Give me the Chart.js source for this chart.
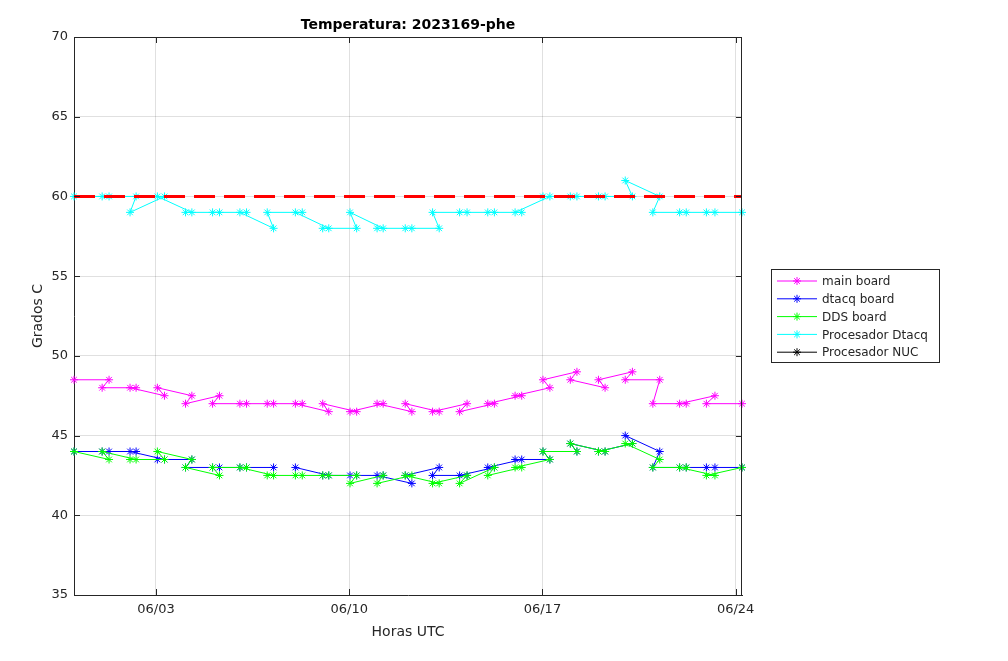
<!DOCTYPE html>
<html>
<head>
<meta charset="utf-8">
<script src="https://cdn.jsdelivr.net/npm/chart.js@4.4.0/dist/chart.umd.min.js"></script>
<style>
  html, body { margin: 0; padding: 0; background: #fff; }
</style>
</head>
<body>
<canvas id="tempChart" width="1008" height="661"></canvas>
<script>
// Instantes de muestreo, en dias de junio (0 = 31/05), en el orden del fichero
const sampleDays = [0.03,
  1.30, 1.05, 2.28, 2.06, 3.31, 3.05, 4.30, 4.07, 5.30, 5.05,
  6.28, 6.04, 7.26, 7.03, 8.30, 8.05, 9.26, 9.04, 10.27, 10.03,
  11.23, 11.01, 12.27, 12.03, 13.26, 13.02, 14.27, 14.00, 15.26, 15.02,
  16.25, 16.01, 17.27, 17.02, 18.25, 18.01, 19.27, 19.03, 20.26, 20.00,
  21.25, 21.00, 22.21, 21.97, 23.25, 22.94,
  24.23];

const mainBoard = [48.5,
  48.5, 48, 48, 48, 47.5, 48, 47.5, 47, 47.5, 47,
  47, 47, 47, 47, 47, 47, 46.5, 47, 46.5, 46.5,
  47, 47, 46.5, 47, 46.5, 46.5, 47, 46.5, 47, 47,
  47.5, 47.5, 48, 48.5, 49, 48.5, 48, 48.5, 49, 48.5,
  48.5, 47, 47, 47, 47.5, 47,
  47];

const dtacqBoard = [44,
  44, 44, 44, 44, 43.5, 43.5, 43.5, 43, 43, 43,
  43, 43, 43, null, null, 43, 42.5, 42.5, 42.5, 42.5,
  42.5, 42.5, 42, 42.5, 43, 42.5, 42.5, 42.5, 43, 43,
  43.5, 43.5, 43.5, 44, 44, 44.5, 44, 44, 44.5, 45,
  44, 43, 43, 43, 43, 43,
  43];

const ddsBoard = [44,
  43.5, 44, 43.5, 43.5, 43.5, 44, 43.5, 43, 42.5, 43,
  43, 43, 42.5, 42.5, 42.5, 42.5, 42.5, 42.5, 42.5, 42,
  42.5, 42, 42.5, 42.5, 42, 42, 42.5, 42, 43, 42.5,
  43, 43, 43.5, 44, 44, 44.5, 44, 44, 44.5, 44.5,
  43.5, 43, 43, 43, 42.5, 42.5,
  43];

const procDtacq = [60,
  60, 60, 60, 59, 60, 60, 59, 59, 59, 59,
  59, 59, 58, 59, 59, 59, 58, 58, 58, 59,
  58, 58, 58, 58, 58, 59, 59, 59, 59, 59,
  59, 59, 60, 60, 60, 60, 60, 60, 60, 61,
  60, 59, 59, 59, 59, 59,
  59];

const procNuc = [];   // sin datos en el periodo
const limitTemp = 60;

const tickDays = [3, 10, 17, 24];
const tickLabels = ["06/03", "06/10", "06/17", "06/24"];

const FONT = "'DejaVu Sans', sans-serif";
const INK = "#262626";

function pts(vals) {
  return vals.map((v, i) => ({ x: sampleDays[i], y: v }));
}

function series(label, vals, color, order) {
  return {
    label: label,
    data: pts(vals),
    borderColor: color,
    backgroundColor: color,
    borderWidth: 1,
    pointStyle: "star",
    pointRadius: 4,
    pointBorderColor: color,
    pointBorderWidth: 1,
    pointHoverRadius: 4,
    spanGaps: false,
    clip: false,
    order: order
  };
}

// titulo, caja superior/derecha, marcas hacia dentro y leyenda
const matlabFrame = {
  id: "matlabFrame",
  afterDraw(chart) {
    const ctx = chart.ctx;
    const a = chart.chartArea;
    const xs = chart.scales.x, ys = chart.scales.y;
    ctx.save();

    ctx.strokeStyle = INK;
    ctx.lineWidth = 1;
    ctx.beginPath();
    ctx.moveTo(a.left, a.top + 0.5); ctx.lineTo(a.right, a.top + 0.5);
    ctx.moveTo(a.right - 0.5, a.top); ctx.lineTo(a.right - 0.5, a.bottom);
    xs.ticks.forEach(t => {
      const px = Math.round(xs.getPixelForValue(t.value)) + 0.5;
      ctx.moveTo(px, a.bottom); ctx.lineTo(px, a.bottom - 6);
      ctx.moveTo(px, a.top); ctx.lineTo(px, a.top + 6);
    });
    ys.ticks.forEach(t => {
      const py = Math.round(ys.getPixelForValue(t.value)) + 0.5;
      ctx.moveTo(a.left, py); ctx.lineTo(a.left + 6, py);
      ctx.moveTo(a.right, py); ctx.lineTo(a.right - 6, py);
    });
    ctx.stroke();

    ctx.fillStyle = "#000";
    ctx.font = "bold 14px " + FONT;
    ctx.textAlign = "center";
    ctx.textBaseline = "middle";
    ctx.fillText("Temperatura: 2023169-phe", (a.left + a.right) / 2, 25);

    // leyenda
    const items = chart.data.datasets.filter(d => d.inLegend);
    const bx = a.right + 29, by = a.top + 232, bw = 168, bh = 93;
    ctx.fillStyle = "#fff";
    ctx.fillRect(bx, by, bw, bh);
    ctx.strokeStyle = INK;
    ctx.strokeRect(bx + 0.5, by + 0.5, bw, bh);
    ctx.font = "12px " + FONT;
    ctx.textAlign = "left";
    items.forEach((d, i) => {
      const y = by + 12 + i * 17.8;
      ctx.strokeStyle = d.borderColor;
      ctx.lineWidth = 1;
      ctx.beginPath();
      ctx.moveTo(bx + 6, y); ctx.lineTo(bx + 46, y);
      ctx.stroke();
      Chart.helpers.drawPoint(ctx, { pointStyle: "star", radius: 4, borderWidth: 1, rotation: 0 }, bx + 26, y);
      ctx.fillStyle = INK;
      ctx.fillText(d.label, bx + 51, y + 1);
    });
    ctx.restore();
  }
};

const datasets = [
  Object.assign(series("main board", mainBoard, "#FF00FF", 5), { inLegend: true }),
  Object.assign(series("dtacq board", dtacqBoard, "#0000FF", 4), { inLegend: true }),
  Object.assign(series("DDS board", ddsBoard, "#00FF00", 3), { inLegend: true }),
  Object.assign(series("Procesador Dtacq", procDtacq, "#00FFFF", 2), { inLegend: true }),
  Object.assign(series("Procesador NUC", procNuc, "#000000", 1), { inLegend: true }),
  {
    label: "limite",
    data: [{ x: sampleDays[0], y: limitTemp }, { x: sampleDays[sampleDays.length - 1], y: limitTemp }],
    borderColor: "#FF0000",
    borderWidth: 3,
    borderDash: [21, 9],
    pointRadius: 0,
    clip: false,
    order: 0
  }
];

new Chart(document.getElementById("tempChart"), {
  type: "line",
  data: { datasets: datasets },
  options: {
    responsive: false,
    animation: false,
    devicePixelRatio: 1,
    layout: { padding: { top: 37, right: 266, left: 0, bottom: 0 } },
    plugins: {
      legend: { display: false },
      tooltip: { enabled: false },
      title: { display: false }
    },
    scales: {
      x: {
        type: "linear",
        min: sampleDays[0],
        max: sampleDays[sampleDays.length - 1],
        afterBuildTicks: s => { s.ticks = tickDays.map(v => ({ value: v })); },
        afterFit: s => { s.height = 66; },
        ticks: {
          callback: v => tickLabels[tickDays.indexOf(v)],
          font: { family: FONT, size: 13 },
          color: INK,
          padding: 7,
          maxRotation: 0,
          autoSkip: false
        },
        grid: { color: "rgba(0,0,0,0.12)", drawTicks: false },
        border: { display: true, color: INK, width: 1 },
        title: {
          display: true,
          text: "Horas UTC",
          font: { family: FONT, size: 14 },
          color: INK,
          padding: { top: 0, bottom: 20.5 }
        }
      },
      y: {
        min: 35,
        max: 70,
        afterFit: s => { s.width = 74; },
        ticks: {
          stepSize: 5,
          font: { family: FONT, size: 13 },
          color: INK,
          padding: 6
        },
        grid: { color: "rgba(0,0,0,0.12)", drawTicks: false },
        border: { display: true, color: INK, width: 1 },
        title: {
          display: true,
          text: "Grados C",
          font: { family: FONT, size: 14 },
          color: INK,
          padding: { top: 29.5, bottom: 0 }
        }
      }
    }
  },
  plugins: [matlabFrame]
});
</script>
</body>
</html>
